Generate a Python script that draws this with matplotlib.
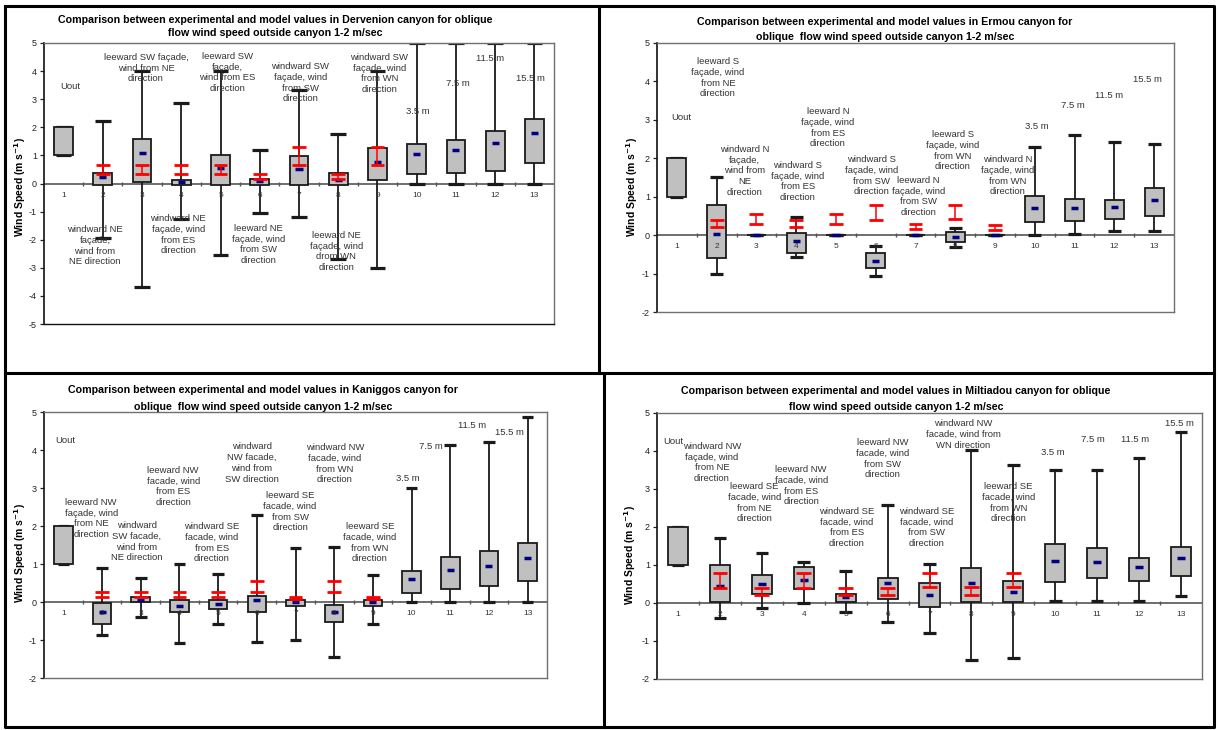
import numpy as np
import matplotlib
matplotlib.use("Agg")
import matplotlib.pyplot as plt
from matplotlib.lines import Line2D

plt.rcParams['font.family'] = ['Liberation Sans', 'DejaVu Sans']
plt.rcParams['axes.unicode_minus'] = False

nan = np.nan
cats = list(range(1, 14))

# ---------- Dervenion ----------
der_min = [1, -1.95, -3.7, -1.27, -2.56, -1.04, -1.18, -2.68, -2.99, 0, 0, 0, 0]
der_q1 = [1, -0.05, 0.07, -0.05, -0.05, -0.05, -0.05, -0.05, 0.13, 0.35, 0.39, 0.45, 0.72]
der_med = [nan, 0.22, 1.1, 0.07, 0.55, 0.1, 0.5, 0.12, 0.77, 1.05, 1.18, 1.43, 1.78]
der_q3 = [2, 0.36, 1.57, 0.14, 1.03, 0.15, 0.97, 0.36, 1.28, 1.4, 1.54, 1.86, 2.31]
der_max = [2, 2.21, 4.02, 2.86, 4.02, 1.18, 3.34, 1.75, 4.02, 5, 5, 5, 5]
der_mlo = [nan, 0.33, 0.33, 0.33, 0.33, 0.17, 0.66, 0.17, 0.66, nan, nan, nan, nan]
der_mhi = [nan, 0.66, 0.66, 0.66, 0.66, 0.33, 1.3, 0.33, 1.3, nan, nan, nan, nan]

# ---------- Ermou ----------
erm_min = [1, -1.0, 0, -0.58, 0, -1.06, 0, -0.30, 0, 0, 0.04, 0.1, 0.1]
erm_q1 = [1, -0.59, 0, -0.47, 0, -0.86, 0, -0.17, 0, 0.33, 0.36, 0.41, 0.51]
erm_med = [nan, 0.04, 0, -0.16, 0, -0.66, 0, -0.04, 0, 0.71, 0.7, 0.74, 0.91]
erm_q3 = [2, 0.78, 0, 0.06, 0, -0.46, 0, 0.07, 0, 1.01, 0.93, 0.91, 1.23]
erm_max = [2, 1.52, 0, 0.47, 0, -0.27, 0, 0.18, 0, 2.3, 2.61, 2.42, 2.36]
erm_mlo = [nan, 0.2, 0.28, 0.2, 0.28, 0.39, 0.15, 0.41, 0.13, nan, nan, nan, nan]
erm_mhi = [nan, 0.4, 0.56, 0.4, 0.56, 0.79, 0.29, 0.78, 0.26, nan, nan, nan, nan]

# ---------- Kaniggos ----------
kan_min = [1, -0.87, -0.4, -1.09, -0.57, -1.05, -1.01, -1.45, -0.57, 0, 0, 0, 0]
kan_q1 = [1, -0.57, 0, -0.27, -0.18, -0.27, -0.1, -0.52, -0.1, 0.24, 0.35, 0.42, 0.56]
kan_med = [nan, -0.26, 0.05, -0.1, -0.04, 0.06, 0.0, -0.27, 0.0, 0.61, 0.83, 0.95, 1.15]
kan_q3 = [2, -0.02, 0.13, 0.05, 0.05, 0.16, 0.05, -0.07, 0.05, 0.82, 1.19, 1.34, 1.54]
kan_max = [2, 0.89, 0.63, 1.0, 0.74, 2.28, 1.41, 1.46, 0.7, 2.99, 4.13, 4.22, 4.88]
kan_mlo = [nan, 0.13, 0.13, 0.13, 0.13, 0.27, 0.07, 0.27, 0.07, nan, nan, nan, nan]
kan_mhi = [nan, 0.27, 0.27, 0.27, 0.27, 0.54, 0.12, 0.54, 0.12, nan, nan, nan, nan]

# ---------- Miltiadou ----------
mil_min = [1, -0.39, -0.12, 0, -0.23, -0.49, -0.78, -1.49, -1.44, 0.05, 0.05, 0.05, 0.18]
mil_q1 = [1, 0.02, 0.24, 0.38, 0.02, 0.1, -0.1, 0.02, 0.02, 0.56, 0.66, 0.57, 0.72]
mil_med = [nan, 0.45, 0.5, 0.6, 0.17, 0.53, 0.21, 0.52, 0.29, 1.1, 1.08, 0.94, 1.19]
mil_q3 = [2, 1.0, 0.74, 0.96, 0.23, 0.66, 0.52, 0.93, 0.57, 1.54, 1.45, 1.19, 1.48]
mil_max = [2, 1.71, 1.32, 1.07, 0.83, 2.59, 1.02, 4.02, 3.63, 3.49, 3.49, 3.81, 4.49]
mil_mlo = [nan, 0.4, 0.2, 0.4, 0.2, 0.2, 0.42, 0.2, 0.42, nan, nan, nan, nan]
mil_mhi = [nan, 0.8, 0.4, 0.8, 0.4, 0.4, 0.8, 0.42, 0.8, nan, nan, nan, nan]

# text labels inside the plots (text, category position, top y)
der_notes = [
    ("Uout", 1.16, 3.6),
    ("leeward SW façade,\nwind from NE\ndirection", 3.1, 4.65),
    ("windward NE\nfaçade,\nwind from\nNE direction", 1.8, -1.48),
    ("windward NE\nfaçade, wind\nfrom ES\ndirection", 3.92, -1.09),
    ("leeward SW\nfaçade,\nwind from ES\ndirection", 5.17, 4.68),
    ("leeward NE\nfaçade, wind\nfrom SW\ndirection", 5.96, -1.44),
    ("windward SW\nfaçade, wind\nfrom SW\ndirection", 7.03, 4.32),
    ("leeward NE\nfaçade, wind\ndrom WN\ndirection", 7.95, -1.69),
    ("windward SW\nfaçade, wind\nfrom WN\ndirection", 9.05, 4.65),
    ("3.5 m", 10.04, 2.72),
    ("7.5 m", 11.04, 3.72),
    ("11.5 m", 11.88, 4.62),
    ("15.5 m", 12.9, 3.9),
]
erm_notes = [
    ("Uout", 1.1, 3.17),
    ("leeward S\nfaçade, wind\nfrom NE\ndirection", 2.03, 4.63),
    ("windward N\nfaçade,\nwind from\nNE\ndirection", 2.71, 2.35),
    ("windward S\nfaçade, wind\nfrom ES\ndirection", 4.04, 1.93),
    ("leeward N\nfaçade, wind\nfrom ES\ndirection", 4.8, 3.33),
    ("windward S\nfaçade, wind\nfrom SW\ndirection", 5.9, 2.08),
    ("leeward N\nfaçade, wind\nfrom SW\ndirection", 7.08, 1.54),
    ("leeward S\nfaçade, wind\nfrom WN\ndirection", 7.94, 2.73),
    ("windward N\nfaçade, wind\nfrom WN\ndirection", 9.32, 2.08),
    ("3.5 m", 10.05, 2.95),
    ("7.5 m", 10.95, 3.5),
    ("11.5 m", 11.86, 3.74),
    ("15.5 m", 12.84, 4.17),
]
kan_notes = [
    ("Uout", 1.05, 4.37),
    ("leeward NW\nfaçade, wind\nfrom NE\ndirection", 1.72, 2.74),
    ("windward\nSW facade,\nwind from\nNE direction", 2.9, 2.13),
    ("leeward NW\nfacade, wind\nfrom ES\ndirection", 3.84, 3.58),
    ("windward SE\nfacade, wind\nfrom ES\ndirection", 4.84, 2.1),
    ("windward\nNW facade,\nwind from\nSW direction", 5.87, 4.2),
    ("leeward SE\nfacade, wind\nfrom SW\ndirection", 6.86, 2.92),
    ("windward NW\nfacade, wind\nfrom WN\ndirection", 8.02, 4.18),
    ("leeward SE\nfacade, wind\nfrom WN\ndirection", 8.92, 2.1),
    ("3.5 m", 9.9, 3.37),
    ("7.5 m", 10.5, 4.2),
    ("11.5 m", 11.56, 4.77),
    ("15.5 m", 12.54, 4.57),
]
mil_notes = [
    ("Uout", 0.88, 4.37),
    ("windward NW\nfaçade, wind\nfrom NE\ndirection", 1.81, 4.24),
    ("leeward SE\nfacade, wind\nfrom NE\ndirection", 2.82, 3.18),
    ("leeward NW\nfacade, wind\nfrom ES\ndirection", 3.94, 3.63),
    ("windward SE\nfacade, wind\nfrom ES\ndirection", 5.03, 2.53),
    ("leeward NW\nfacade, wind\nfrom SW\ndirection", 5.89, 4.34),
    ("windward SE\nfacade, wind\nfrom SW\ndirection", 6.94, 2.53),
    ("windward NW\nfacade, wind from\nWN direction", 7.8, 4.84),
    ("leeward SE\nfacade, wind\nfrom WN\ndirection", 8.88, 3.18),
    ("3.5 m", 9.93, 4.09),
    ("7.5 m", 10.9, 4.41),
    ("11.5 m", 11.9, 4.41),
    ("15.5 m", 12.96, 4.85),
]

W, H = 1220, 730


def px_rect(l, t, r, b):
    return [l / W, 1 - b / H, (r - l) / W, (b - t) / H]


def draw_panel(ax, mins, q1, med, q3, maxs, mlo, mhi, notes, ylim, capw):
    x = np.array(cats, dtype=float)
    mins, q1, med, q3, maxs = map(np.array, (mins, q1, med, q3, maxs))
    mlo, mhi = np.array(mlo), np.array(mhi)

    # whiskers + caps
    ax.vlines(x, mins, maxs, color="#1a1a1a", lw=1.3, zorder=2)
    ax.hlines(mins, x - capw / 2, x + capw / 2, color="#1a1a1a", lw=2.3, zorder=2)
    ax.hlines(maxs, x - capw / 2, x + capw / 2, color="#1a1a1a", lw=2.3, zorder=2)

    # boxes
    ax.bar(x, q3 - q1, bottom=q1, width=0.48, color="#c0c0c0",
           edgecolor="#1a1a1a", linewidth=1.3, zorder=3)

    # blue mean marks
    ok = ~np.isnan(med)
    ax.hlines(med[ok], x[ok] - 0.09, x[ok] + 0.09, color="#000080", lw=2.5, zorder=4)

    # red model ranges
    ok = ~np.isnan(mlo)
    ax.vlines(x[ok], mlo[ok], mhi[ok], color="red", lw=1.1, zorder=5)
    ax.hlines(mlo[ok], x[ok] - 0.175, x[ok] + 0.175, color="red", lw=2.0, zorder=5)
    ax.hlines(mhi[ok], x[ok] - 0.175, x[ok] + 0.175, color="red", lw=2.0, zorder=5)

    # category axis at zero
    ax.axhline(0, color="#555555", lw=1.2, zorder=1)
    ax.plot(np.arange(1.5, 13.5), np.zeros(12), ls="none", marker="|",
            ms=3.5, mew=1.0, color="#555555", zorder=1)
    for c in cats:
        ax.annotate(str(c), (c, 0), xytext=(0, -8.5), textcoords="offset points",
                    ha="center", va="center", fontsize=6, color="#333333", zorder=6)

    for txt, xx, yy in notes:
        ax.text(xx, yy, txt, ha="center", va="top", fontsize=6.8,
                color="#333333", linespacing=1.25, zorder=6)

    ax.set_xlim(0.5, 13.5)
    ax.set_ylim(*ylim)
    ax.set_xticks([])
    ax.set_yticks(range(ylim[0], ylim[1] + 1))
    ax.tick_params(axis="y", labelsize=6.5, length=3, width=0.9,
                   colors="#222222", pad=2)
    for s in ("top", "right", "bottom"):
        ax.spines[s].set_color("#707070")
        ax.spines[s].set_linewidth(1.0)
    ax.spines["left"].set_color("#111111")
    ax.spines["left"].set_linewidth(1.2)


fig = plt.figure(figsize=(12.2, 7.3), dpi=100)

ax1 = fig.add_axes(px_rect(44, 43, 554, 324))
draw_panel(ax1, der_min, der_q1, der_med, der_q3, der_max, der_mlo, der_mhi,
           der_notes, (-5, 5), 0.4)
ax1.spines["bottom"].set_color("#111111")

ax2 = fig.add_axes(px_rect(657, 43, 1174, 312))
draw_panel(ax2, erm_min, erm_q1, erm_med, erm_q3, erm_max, erm_mlo, erm_mhi,
           erm_notes, (-2, 5), 0.33)

ax3 = fig.add_axes(px_rect(44, 412, 547, 678))
draw_panel(ax3, kan_min, kan_q1, kan_med, kan_q3, kan_max, kan_mlo, kan_mhi,
           kan_notes, (-2, 5), 0.3)

ax4 = fig.add_axes(px_rect(657, 413, 1202, 679))
draw_panel(ax4, mil_min, mil_q1, mil_med, mil_q3, mil_max, mil_mlo, mil_mhi,
           mil_notes, (-2, 5), 0.3)

# titles
titles = [
    ("Comparison between experimental and model values in Dervenion canyon for oblique",
     "flow wind speed outside canyon 1-2 m/sec", 275, 20, 33),
    ("Comparison between experimental and model values in Ermou canyon for",
     "oblique  flow wind speed outside canyon 1-2 m/sec", 885, 22, 37),
    ("Comparison between experimental and model values in Kaniggos canyon for",
     "oblique  flow wind speed outside canyon 1-2 m/sec", 263, 390, 407),
    ("Comparison between experimental and model values in Miltiadou canyon for oblique",
     "flow wind speed outside canyon 1-2 m/sec", 896, 391, 407),
]
for l1, l2, cx, y1, y2 in titles:
    fig.text(cx / W, 1 - y1 / H, l1, ha="center", va="center",
             fontsize=7.7, fontweight="bold")
    fig.text(cx / W, 1 - y2 / H, l2, ha="center", va="center",
             fontsize=7.7, fontweight="bold")

# y labels
for lx, ly in [(20, 187), (632, 187), (20, 553), (630, 555)]:
    fig.text(lx / W, 1 - ly / H, "Wind Speed (m s$^{\\mathbf{-1}}$)", rotation=90,
             ha="center", va="center", fontsize=7.5, fontweight="bold")

# panel frames
frame = dict(color="black", lw=2.2, transform=fig.transFigure)
fig.lines += [
    Line2D([5 / W, 1214 / W, 1214 / W, 5 / W, 5 / W],
           [1 - 6 / H, 1 - 6 / H, 1 - 727 / H, 1 - 727 / H, 1 - 6 / H], **frame),
    Line2D([5 / W, 1214 / W], [1 - 373 / H, 1 - 373 / H], **frame),
    Line2D([599 / W, 599 / W], [1 - 6 / H, 1 - 373 / H], **frame),
    Line2D([604 / W, 604 / W], [1 - 373 / H, 1 - 727 / H], **frame),
]

fig.savefig("out.png", dpi=100)
